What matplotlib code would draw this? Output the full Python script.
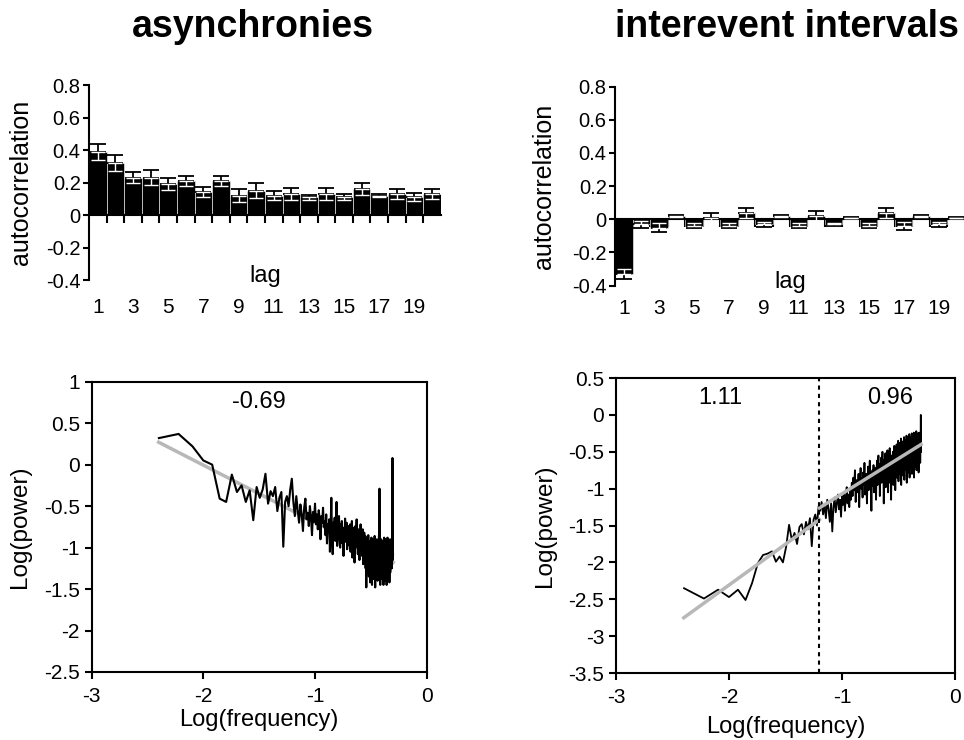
import numpy as np
import matplotlib
matplotlib.use('Agg')
import matplotlib.pyplot as plt
import matplotlib.transforms as mtransforms
from matplotlib.ticker import FuncFormatter

plt.rcParams['font.family'] = ['Liberation Sans', 'DejaVu Sans']
plt.rcParams['axes.unicode_minus'] = False

# autocorrelation, lags 1..20
lags = np.arange(1, 21)
lag_labels = [1, 3, 5, 7, 9, 11, 13, 15, 17, 19]
async_acf = [0.39, 0.32, 0.23, 0.23, 0.19, 0.21, 0.14, 0.21, 0.12, 0.15,
             0.12, 0.13, 0.11, 0.13, 0.11, 0.16, 0.12, 0.13, 0.11, 0.13]
async_err = [0.05, 0.05, 0.035, 0.045, 0.035, 0.03, 0.03, 0.03, 0.04, 0.045,
             0.025, 0.035, 0.015, 0.035, 0.02, 0.035, 0.01, 0.03, 0.025, 0.03]
iei_acf = [-0.33, -0.03, -0.05, 0.02, -0.04, 0.01, -0.04, 0.04, -0.03, 0.02,
           -0.04, 0.02, -0.03, 0.01, -0.04, 0.04, -0.04, 0.02, -0.03, 0.01]
iei_err = [0.03, 0.02, 0.025, 0.005, 0.015, 0.03, 0.015, 0.03, 0.015, 0.005,
           0.015, 0.03, 0.01, 0.005, 0.015, 0.03, 0.025, 0.005, 0.015, 0.005]

# spectra: frequency bins k = 2..250 of 500
freq = np.arange(2, 251) / 500.0
async_pow = [
    0.32, 0.37, 0.22, 0.05, 0.00, -0.41, -0.45, -0.12, -0.33, -0.25,
    -0.45, -0.31, -0.67, -0.27, -0.40, -0.30, -0.11, -0.47, -0.32, -0.38,
    -0.27, -0.56, -0.40, -0.33, -0.99, -0.45, -0.38, -0.50, -0.30, -0.17,
    -0.45, -0.62, -0.38, -0.55, -0.70, -0.48, -0.60, -0.80, -0.52, -0.41,
    -0.66, -0.58, -0.74, -0.50, -0.63, -0.85, -0.57, -0.69, -0.47, -0.72,
    -0.60, -0.78, -0.55, -0.66, -0.90, -0.62, -0.70, -0.52, -0.75,
    -0.68, -0.85, -0.60, -0.95, -0.72, -0.80, -0.66, -1.05, -0.76, -0.40,
    -0.88, -1.08, -0.70, -0.82, -0.64, -0.92, -0.78, -0.45, -0.98, -0.74,
    -0.86, -0.62, -0.90, -1.00, -0.72, -0.84, -0.68, -0.95, -0.80, -1.10,
    -0.76, -0.88, -0.65, -0.93, -0.82, -0.70, -1.02, -0.78, -0.90, -0.74,
    -0.85, -0.98, -0.72, -1.05, -0.80, -0.92, -0.68, -1.12, -0.86, -0.76,
    -0.95, -0.82, -1.18, -0.90, -0.74, -1.00, -0.84, -0.66, -0.96, -0.88,
    -1.08, -0.78, -0.92, -0.85, -1.15, -0.80, -0.98, -0.72, -1.05, -0.90,
    -0.84, -1.10, -0.95, -0.78, -1.20, -0.88, -1.02, -0.82, -0.96, -1.12,
    -0.86, -1.25, -0.92, -1.48, -1.00, -0.88, -1.30, -0.95, -1.10, -0.85,
    -1.05, -1.35, -0.92, -1.20, -1.00, -1.42, -0.95, -1.15, -1.30, -0.88,
    -1.10, -1.45, -0.98, -1.25, -1.05, -0.90, -1.38, -1.12, -1.00, -1.28,
    -0.86, -1.18, -1.48, -1.02, -1.22, -0.95, -1.35, -1.08, -0.90, -1.20,
    -1.00, -1.40, -1.12, -0.92, -1.28, -1.05, -0.85, -1.18, -0.29, -1.30,
    -1.02, -1.45, -0.96, -1.15, -1.32, -0.90, -1.22, -1.05, -1.38, -0.98,
    -1.12, -1.30, -0.92, -1.20, -1.45, -1.00, -1.15, -0.88, -1.35, -1.05,
    -1.22, -0.95, -1.40, -1.10, -0.90, -1.28, -1.02, -1.18, -1.45, -0.96,
    -1.12, -1.32, -0.88, -1.20, -1.05, -1.38, -0.98, -1.15, -0.92, -1.25,
    -1.08, -1.42, -1.00, -1.18, -0.90, -1.30, -1.05, -1.12, -0.95, -1.22,
    -1.02, -1.15, -0.98, -1.25, -1.05, -1.10, 0.08, -1.00, -1.15, -1.08]
iei_pow = [
    -2.35, -2.49, -2.37, -2.47, -2.37, -2.51, -2.28, -2.01, -1.90, -1.88,
    -1.85, -1.99, -1.92, -2.00, -1.79, -1.49, -1.70, -1.60, -1.75, -1.52,
    -1.48, -1.62, -1.45, -1.55, -1.40, -1.78, -1.42, -1.35, -1.50, -1.24,
    -1.30, -1.18, -1.35, -1.22, -1.40, -1.15, -1.28, -1.45, -1.20, -1.58,
    -1.25, -1.12, -1.32, -1.20, -1.08, -1.28, -1.15, -1.38, -1.10, -1.22,
    -1.05, -1.30, -1.12, -0.98, -1.20, -1.08, -1.25, -1.00, -1.15,
    -0.92, -1.10, -0.85, -1.02, -0.75, -1.18, -0.95, -0.88, -1.05, -0.80,
    -1.25, -0.90, -0.72, -1.00, -0.86, -1.12, -0.78, -0.95, -0.65, -1.08,
    -0.88, -0.80, -1.20, -0.92, -0.70, -1.02, -0.84, -0.62, -0.98, -0.90,
    -1.30, -0.82, -0.75, -0.96, -0.68, -1.05, -0.80, -0.88, -0.72, -1.15,
    -0.78, -0.62, -0.95, -0.70, -0.55, -0.88, -0.74, -1.10, -0.66, -0.80,
    -0.58, -0.92, -0.72, -0.50, -0.85, -0.68, -1.20, -0.75, -0.60, -0.82,
    -0.52, -0.98, -0.70, -0.64, -0.88, -0.48, -0.78, -1.05, -0.66, -0.58,
    -0.80, -0.45, -0.92, -0.68, -0.60, -1.15, -0.72, -0.55, -0.84, -0.62,
    -0.50, -0.95, -0.66, -0.74, -0.42, -0.88, -0.60, -1.02, -0.70, -0.55,
    -0.62, -0.40, -0.85, -0.55, -0.48, -0.72, -0.35, -0.90, -0.58, -0.45,
    -0.66, -0.38, -0.80, -0.52, -0.60, -0.32, -0.95, -0.55, -0.44, -0.70,
    -0.50, -0.36, -0.82, -0.58, -0.42, -0.65, -0.30, -0.88, -0.52, -0.46,
    -0.62, -0.34, -0.75, -0.48, -0.56, -0.28, -0.92, -0.50, -0.40, -0.68,
    -0.45, -0.30, -0.78, -0.55, -0.38, -0.62, -0.26, -0.85, -0.48, -0.42,
    -0.52, -0.30, -0.72, -0.45, -0.36, -0.60, -0.25, -0.80, -0.48, -0.40,
    -0.55, -0.28, -0.68, -0.42, -0.50, -0.24, -0.85, -0.46, -0.35, -0.58,
    -0.38, -0.26, -0.70, -0.44, -0.32, -0.52, -0.22, -0.75, -0.40, -0.48,
    -0.30, -0.62, -0.36, -0.25, -0.55, -0.42, -0.28, -0.78, -0.38, -0.46,
    -0.24, -0.58, -0.34, -0.45, -0.30, -0.65, -0.40, -0.35, 0.00, -0.50]

# fitted slopes (endpoints of the grey lines)
async_fit_x = [-2.4, -0.3]
async_fit_y = [0.27, -1.18]
iei_fit1_x = [-2.4, -1.2]
iei_fit1_y = [-2.75, -1.42]
iei_fit2_x = [-1.2, -0.3]
iei_fit2_y = [-1.26, -0.40]
iei_break = -1.2

fmt = FuncFormatter(lambda v, p: '%g' % round(v, 2))

fig = plt.figure(figsize=(9.64, 7.4), dpi=100)


def acf_panel(rect, vals, errs, ylabel_x, tick_y, lag_y):
    ax = fig.add_axes(rect)
    vals = np.array(vals)
    errs = np.array(errs)
    ax.bar(lags, vals, width=1.0, color='black', edgecolor='white', linewidth=0.4, zorder=2)
    up = vals >= 0
    # outward half of error bar in black, inner half in white
    out_lo = np.where(up, 0, errs)
    out_hi = np.where(up, errs, 0)
    ax.errorbar(lags, vals, yerr=[out_lo, out_hi], fmt='none', ecolor='black',
                elinewidth=1.3, capsize=6, capthick=1.3, zorder=3)
    ax.errorbar(lags, vals, yerr=[out_hi, out_lo], fmt='none', ecolor='white',
                elinewidth=1.0, capsize=5, capthick=1.0, zorder=3)
    ax.set_xlim(0.5, 20.5)
    ax.set_ylim(-0.4, 0.8)
    ax.set_yticks([-0.4, -0.2, 0, 0.2, 0.4, 0.6, 0.8])
    ax.yaxis.set_major_formatter(fmt)
    ax.spines['top'].set_visible(False)
    ax.spines['right'].set_visible(False)
    ax.spines['bottom'].set_position(('data', 0))
    ax.spines['left'].set_linewidth(1.5)
    ax.spines['bottom'].set_linewidth(1.5)
    ax.set_xticks(np.arange(1.5, 20.5, 1))
    ax.tick_params(axis='x', direction='out', length=6, width=1.5, labelbottom=False)
    ax.tick_params(axis='y', direction='out', length=4, width=1.5, labelsize=14.5, pad=2)
    ax.set_ylabel('autocorrelation', fontsize=18, labelpad=4)
    ax.yaxis.set_label_coords(ylabel_x, 0.5)
    trans = mtransforms.blended_transform_factory(ax.transData, ax.transAxes)
    for lab in lag_labels:
        ax.text(lab, tick_y, str(lab), transform=trans, ha='center', va='center', fontsize=15)
    ax.text(10.5, lag_y, 'lag', transform=trans, ha='center', va='center', fontsize=17)
    return ax


acf_panel([0.0923, 0.6216, 0.365, 0.2635], async_acf, async_err, -0.16, -0.14, 0.02)
acf_panel([0.638, 0.614, 0.363, 0.269], iei_acf, iei_err, -0.17, -0.115, 0.02)

logf = np.log10(freq)


def spec_setup(ax, ylim, yticks, xpad):
    ax.set_xlim(-3, 0)
    ax.set_ylim(*ylim)
    ax.set_xticks([-3, -2, -1, 0])
    ax.set_yticks(yticks)
    ax.xaxis.set_major_formatter(fmt)
    ax.yaxis.set_major_formatter(fmt)
    for s in ax.spines.values():
        s.set_linewidth(1.5)
    ax.tick_params(direction='out', length=5, width=1.5, labelsize=15)
    ax.tick_params(axis='x', pad=6)
    ax.set_xlabel('Log(frequency)', fontsize=17, labelpad=xpad)
    ax.set_ylabel('Log(power)', fontsize=17.5, labelpad=6)


ax3 = fig.add_axes([0.0951, 0.0919, 0.3475, 0.3923])
ax3.plot(async_fit_x, async_fit_y, color='#b8b8b8', lw=2.5, zorder=1)
ax3.plot(logf, async_pow, color='black', lw=1.5, zorder=2)
spec_setup(ax3, (-2.5, 1), np.arange(-2.5, 1.01, 0.5), 2)
ax3.text(-1.5, 0.75, '-0.69', ha='center', va='center', fontsize=17)
ax3.yaxis.set_label_coords(-0.18, 0.5)

ax4 = fig.add_axes([0.639, 0.0905, 0.3517, 0.3986])
ax4.plot(logf, iei_pow, color='black', lw=1.3, zorder=2)
ax4.plot(iei_fit1_x, iei_fit1_y, color='#b8b8b8', lw=2.5, zorder=3)
ax4.plot(iei_fit2_x, iei_fit2_y, color='#b8b8b8', lw=2.5, zorder=3)
ax4.axvline(iei_break, color='black', lw=1.5, ls=(0, (2, 2)), zorder=4)
spec_setup(ax4, (-3.5, 0.5), np.arange(-3.5, 0.51, 0.5), 6)
ax4.text(-2.08, 0.23, '1.11', ha='center', va='center', fontsize=17)
ax4.text(-0.57, 0.23, '0.96', ha='center', va='center', fontsize=17)
ax4.yaxis.set_label_coords(-0.177, 0.5)

title_font = ['Liberation Sans Narrow', 'Liberation Sans', 'DejaVu Sans']
fig.text(253 / 964, 1 - 27 / 740, 'asynchronies', ha='center', va='center',
         fontsize=27, fontweight='bold', family=title_font)
fig.text(787 / 964, 1 - 27 / 740, 'interevent intervals', ha='center', va='center',
         fontsize=27, fontweight='bold', family=title_font)

fig.savefig('out.png', dpi=100)
